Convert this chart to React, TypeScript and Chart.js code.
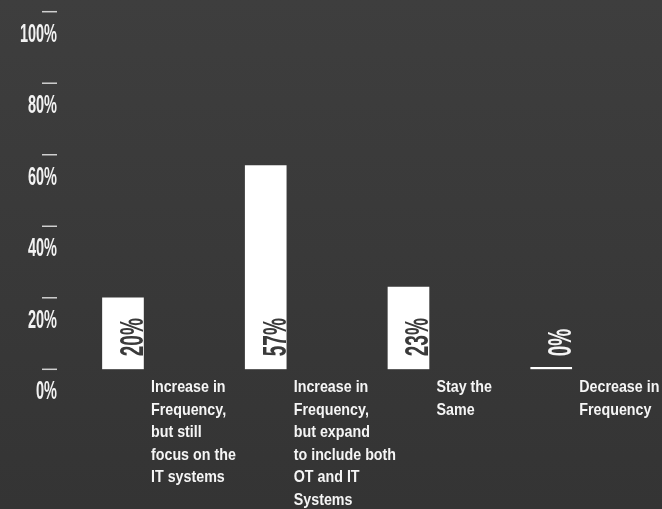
import React, { useEffect, useRef } from "react";
import { Chart, registerables } from "chart.js";

Chart.register(...registerables);

const categories: string[][] = [
  ["Increase in", "Frequency,", "but still", "focus on the", "IT systems"],
  ["Increase in", "Frequency,", "but expand", "to include both", "OT and IT", "Systems"],
  ["Stay the", "Same"],
  ["Decrease in", "Frequency"],
];
const values: number[] = [20, 57, 23, 0];
const valueLabels: string[] = ["20%", "57%", "23%", "0%"];
const yTicks: number[] = [0, 20, 40, 60, 80, 100];
const yTickLabels: string[] = ["0%", "20%", "40%", "60%", "80%", "100%"];

const FONT = "'Liberation Sans', Arial, 'DejaVu Sans', sans-serif";

const decorPlugin = {
  id: "decor",
  beforeDraw(chart: any) {
    const { ctx, width, height } = chart;
    ctx.save();
    const g = ctx.createLinearGradient(0, 0, 0, height);
    g.addColorStop(0, "#3e3e3e");
    g.addColorStop(1, "#343434");
    ctx.fillStyle = g;
    ctx.fillRect(0, 0, width, height);
    ctx.restore();
  },
  afterDatasetsDraw(chart: any) {
    const { ctx } = chart;
    const y = chart.scales.y;
    const x = chart.scales.x;
    const area = chart.chartArea;
    ctx.save();
    // y ticks: short line with label below
    yTicks.forEach((v, i) => {
      const py = y.getPixelForValue(v);
      ctx.strokeStyle = "#d0d0d0";
      ctx.lineWidth = 1.5;
      ctx.beginPath();
      ctx.moveTo(42, py);
      ctx.lineTo(57, py);
      ctx.stroke();
      ctx.save();
      ctx.translate(57, py + 30);
      ctx.scale(0.58, 1);
      ctx.font = `bold 25px ${FONT}`;
      ctx.fillStyle = "#f2f2f2";
      ctx.textAlign = "right";
      ctx.textBaseline = "alphabetic";
      ctx.fillText(yTickLabels[i], 0, 0);
      ctx.restore();
    });
    // bar value labels (rotated) and category labels
    const meta = chart.getDatasetMeta(0);
    meta.data.forEach((bar: any, i: number) => {
      const right = bar.x + bar.width / 2;
      const startY = area.bottom - 13;
      ctx.save();
      ctx.font = `bold 34px ${FONT}`;
      const tw = ctx.measureText(valueLabels[i]).width * 0.56;
      const inside = bar.y <= startY - tw;
      ctx.translate(right - 0.5, startY);
      ctx.rotate(-Math.PI / 2);
      ctx.scale(0.56, 1);
      ctx.fillStyle = inside ? "#3a3a3a" : "#f5f5f5";
      ctx.textAlign = "left";
      ctx.textBaseline = "alphabetic";
      ctx.fillText(valueLabels[i], 0, 0);
      ctx.restore();

      const cx = x.getPixelForValue(i) + 28;
      categories[i].forEach((line, k) => {
        ctx.save();
        ctx.translate(cx, area.bottom + 23 + k * 22.5);
        ctx.scale(0.84, 1);
        ctx.font = `bold 17px ${FONT}`;
        ctx.fillStyle = "#f5f5f5";
        ctx.textAlign = "left";
        ctx.textBaseline = "alphabetic";
        ctx.fillText(line, 0, 0);
        ctx.restore();
      });
    });
    ctx.restore();
  },
};

export default function App() {
  const ref = useRef<HTMLCanvasElement>(null);
  useEffect(() => {
    if (!ref.current) return;
    const chart = new Chart(ref.current, {
      type: "bar",
      data: {
        labels: categories.map((c) => c.join(" ")),
        datasets: [
          {
            data: values,
            backgroundColor: "#ffffff",
            borderWidth: 0,
            barThickness: 41,
            minBarLength: 2,
          },
        ],
      },
      options: {
        responsive: false,
        animation: false,
        layout: { padding: { left: 51.6, right: 39.4, top: 11.7, bottom: 139.7 } },
        plugins: { legend: { display: false }, tooltip: { enabled: false } },
        scales: {
          x: { display: false },
          y: { display: false, min: 0, max: 100 },
        },
      },
      plugins: [decorPlugin],
    });
    return () => chart.destroy();
  }, []);
  return (
    <div style={{ position: "absolute", left: 0, top: 0, width: 662, height: 509 }}>
      <canvas ref={ref} width={662} height={509} />
    </div>
  );
}
